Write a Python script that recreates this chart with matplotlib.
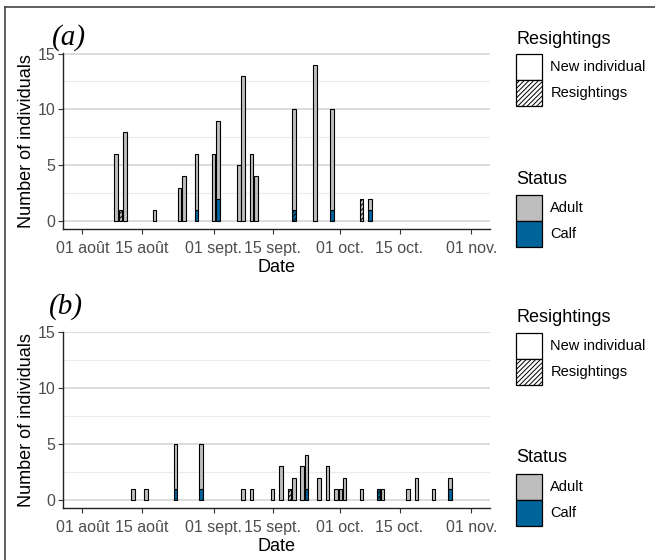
import matplotlib
matplotlib.use('Agg')
import matplotlib.pyplot as plt
import matplotlib.dates as mdates
from matplotlib.patches import Patch
from matplotlib.lines import Line2D
import numpy as np
import pandas as pd

# panel (a)
a_dates = ['2018-08-09', '2018-08-10', '2018-08-11', '2018-08-18', '2018-08-24', '2018-08-25',
           '2018-08-28', '2018-09-01', '2018-09-02', '2018-09-07', '2018-09-08', '2018-09-10',
           '2018-09-11', '2018-09-20', '2018-09-25', '2018-09-29', '2018-10-06', '2018-10-08']
a_adult_new = [6, 0, 8, 1, 3, 4, 5, 6, 7, 5, 13, 6, 4, 9, 14, 9, 0, 1]
a_calf_new = [0, 0, 0, 0, 0, 0, 1, 0, 2, 0, 0, 0, 0, 0, 0, 1, 0, 1]
a_adult_res = [0, 1, 0, 0, 0, 0, 0, 0, 0, 0, 0, 0, 0, 0, 0, 0, 2, 0]
a_calf_res = [0, 0, 0, 0, 0, 0, 0, 0, 0, 0, 0, 0, 0, 1, 0, 0, 0, 0]

# panel (b)
b_dates = ['2018-08-13', '2018-08-16', '2018-08-23', '2018-08-29', '2018-09-08', '2018-09-10',
           '2018-09-15', '2018-09-17', '2018-09-19', '2018-09-20', '2018-09-22', '2018-09-23',
           '2018-09-26', '2018-09-28', '2018-09-30', '2018-10-01', '2018-10-02', '2018-10-06',
           '2018-10-10', '2018-10-11', '2018-10-17', '2018-10-19', '2018-10-23', '2018-10-27']
b_adult_new = [1, 1, 4, 4, 1, 1, 1, 3, 0, 2, 3, 3, 2, 3, 1, 1, 2, 1, 0, 1, 1, 2, 1, 1]
b_calf_new = [0, 0, 1, 1, 0, 0, 0, 0, 0, 0, 0, 1, 0, 0, 0, 0, 0, 0, 0, 0, 0, 0, 0, 1]
b_adult_res = [0, 0, 0, 0, 0, 0, 0, 0, 1, 0, 0, 0, 0, 0, 0, 0, 0, 0, 0, 0, 0, 0, 0, 0]
b_calf_res = [0, 0, 0, 0, 0, 0, 0, 0, 0, 0, 0, 0, 0, 0, 0, 0, 0, 0, 1, 0, 0, 0, 0, 0]

tick_dates = ['2018-08-01', '2018-08-15', '2018-09-01', '2018-09-15', '2018-10-01', '2018-10-15', '2018-11-01']
tick_labels = ['01 août', '15 août', '01 sept.', '15 sept.', '01 oct.', '15 oct.', '01 nov.']

ADULT = '#bebebe'
CALF = '#006399'
TICK_COL = '#4d4d4d'
HATCH = '///////'

plt.rcParams['font.family'] = ['Liberation Sans', 'DejaVu Sans']
plt.rcParams['hatch.linewidth'] = 0.7

W, H = 655, 560
fig = plt.figure(figsize=(W / 100, H / 100), dpi=100)


def fx(px):
    return px / W


def fy(py):
    return 1 - py / H


def draw_panel(ax, dates, adult_new, calf_new, adult_res, calf_res):
    x = mdates.date2num(pd.to_datetime(dates))
    layers = [
        (np.array(calf_new), CALF, None),
        (np.array(calf_res), CALF, HATCH),
        (np.array(adult_new), ADULT, None),
        (np.array(adult_res), ADULT, HATCH),
    ]
    bottom = np.zeros(len(x))
    for vals, col, hatch in layers:
        m = vals > 0
        if m.any():
            ax.bar(x[m], vals[m], bottom=bottom[m], width=0.85, color=col,
                   edgecolor='black', linewidth=0.8, hatch=hatch, zorder=3)
        bottom = bottom + vals

    for yv in [0, 5, 10, 15]:
        ax.axhline(yv, color='#d6d6d6', lw=1.2, zorder=1)
    for yv in [2.5, 7.5, 12.5]:
        ax.axhline(yv, color='#ebebeb', lw=0.8, zorder=1)

    x0 = mdates.date2num(pd.Timestamp('2018-08-01'))
    ax.set_xlim(x0 - 4.6, x0 + 96.4)
    ax.set_ylim(-0.75, 15.05)
    ax.set_yticks([0, 5, 10, 15])
    ax.set_xticks(mdates.date2num(pd.to_datetime(tick_dates)))
    ax.set_xticklabels(tick_labels)
    ax.tick_params(axis='both', colors='#333333', labelcolor=TICK_COL, labelsize=11.5,
                   length=3.5, width=0.8)
    ax.tick_params(axis='x', pad=5)
    ax.tick_params(axis='y', pad=2)
    for s in ['top', 'right']:
        ax.spines[s].set_visible(False)
    for s in ['left', 'bottom']:
        ax.spines[s].set_color('#222222')
        ax.spines[s].set_linewidth(1.0)
    ax.set_xlabel('Date', fontsize=13, labelpad=2)
    ax.set_ylabel('Number of individuals', fontsize=13, labelpad=2)


ax_a = fig.add_axes([fx(63), fy(229.4), fx(427), 176.4 / H])
draw_panel(ax_a, a_dates, a_adult_new, a_calf_new, a_adult_res, a_calf_res)

ax_b = fig.add_axes([fx(63), fy(508.3), fx(427), 176.6 / H])
draw_panel(ax_b, b_dates, b_adult_new, b_calf_new, b_adult_res, b_calf_res)

serif = ['Liberation Serif', 'DejaVu Serif']
fig.text(fx(52), fy(51), '(a)', fontsize=21, style='italic', family=serif, ha='left', va='bottom')
fig.text(fx(49), fy(320), '(b)', fontsize=21, style='italic', family=serif, ha='left', va='bottom')


def add_legends(offset):
    res_handles = [Patch(facecolor='white', edgecolor='black', linewidth=0.9),
                   Patch(facecolor='white', edgecolor='black', linewidth=0.9, hatch=HATCH)]
    st_handles = [Patch(facecolor=ADULT, edgecolor='black', linewidth=0.9),
                  Patch(facecolor=CALF, edgecolor='black', linewidth=0.9)]
    common = dict(loc='upper left', frameon=False, borderpad=0, borderaxespad=0,
                  handlelength=1.8, handleheight=2.36, labelspacing=0,
                  handletextpad=0.55, fontsize=10.5)
    fig.text(fx(516), fy(offset + 39), 'Resightings', fontsize=13, ha='left', va='center')
    fig.legend(res_handles, ['New individual', 'Resightings'],
               bbox_to_anchor=(fx(516), fy(offset + 54)), **common)
    fig.text(fx(516), fy(offset + 179), 'Status', fontsize=13, ha='left', va='center')
    fig.legend(st_handles, ['Adult', 'Calf'],
               bbox_to_anchor=(fx(516), fy(offset + 195)), **common)


add_legends(0)
add_legends(279)

# outer frame (left and top edges)
fig.add_artist(Line2D([fx(5), fx(5)], [0, fy(7)], transform=fig.transFigure,
                      color='#444444', lw=1.2))
fig.add_artist(Line2D([fx(5), 1], [fy(7), fy(7)], transform=fig.transFigure,
                      color='#444444', lw=1.2))

fig.savefig('out.png', dpi=100)
